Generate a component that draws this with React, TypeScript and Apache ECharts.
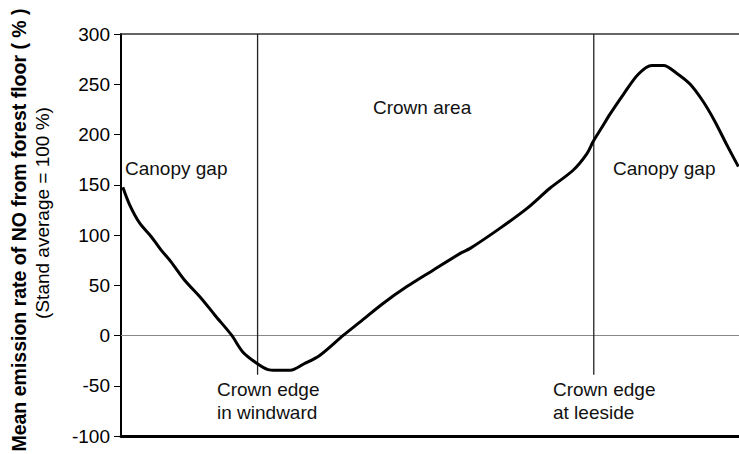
import React, { useEffect, useRef } from "react";
import * as echarts from "echarts";

// Position along the transect (0–100, relative units) and emission rate (% of stand average)
const transectPos = [0.3, 1.4, 3.0, 4.9, 6.5, 8.1, 10.3, 13.0, 15.2, 17.9, 19.7, 21.9, 23.8, 25.1, 27.4, 29.5, 32.2, 36.0, 38.7, 42.4, 46.2, 50.5, 54.9, 56.5, 61.3, 65.7, 69.4, 73.2, 75.4, 76.4, 78.0, 79.1, 81.3, 83.7, 85.9, 87.8, 89.9, 92.1, 94.2, 96.1, 98.0, 99.9];
const emission = [147.5, 130, 112, 98.3, 85, 73.3, 55, 36.9, 20.2, 0.3, -16.3, -27.3, -33.9, -34.6, -34.6, -28.6, -19.6, 0.3, 13.6, 31.9, 48.4, 65, 81.7, 86.7, 106.6, 126.5, 146.5, 164.7, 181, 193, 209, 220, 240, 260, 268.7, 268.7, 261, 250, 232.8, 213, 190, 168];

// Crown edges (vertical reference lines)
const crownEdgePos = [22.1, 76.5];
const crownEdgeTop = 300;
const crownEdgeBottom = -39;

const yMin = -100;
const yMax = 300;
const yInterval = 50;

const yTitle = "Mean emission rate of NO from forest floor ( % )";
const ySubTitle = "(Stand average = 100 %)";

const FONT = "Liberation Sans, Arial, sans-serif";

export default function App() {
  const ref = useRef<HTMLDivElement>(null);
  useEffect(() => {
    if (!ref.current) return;
    const chart = echarts.init(ref.current, null, { renderer: "svg" });
    const curve = transectPos.map((x, i) => [x, emission[i]]);
    const edgeSeries = crownEdgePos.map((x, i) => ({
      type: "line",
      name: "edge" + i,
      data: [[x, crownEdgeTop], [x, crownEdgeBottom]],
      symbol: "none",
      silent: true,
      lineStyle: { color: "#222", width: 1.3 },
      z: 3,
    }));
    const textStyle = { fill: "#111", fontSize: 19, fontFamily: FONT };
    chart.setOption({
      animation: false,
      backgroundColor: "#fff",
      grid: { left: 121, right: 0, top: 34, bottom: 18, outerBoundsMode: "none", containLabel: false },
      xAxis: [
        {
          type: "value",
          min: 0,
          max: 100,
          position: "bottom",
          axisLine: { onZero: false, lineStyle: { color: "#000", width: 3 } },
          axisTick: { show: false },
          axisLabel: { show: false },
          splitLine: { show: false },
        },
        {
          type: "value",
          min: 0,
          max: 100,
          position: "top",
          axisLine: { onZero: false, lineStyle: { color: "#333", width: 1.5 } },
          axisTick: { show: false },
          axisLabel: { show: false },
          splitLine: { show: false },
        },
      ],
      yAxis: {
        type: "value",
        min: yMin,
        max: yMax,
        interval: yInterval,
        axisLine: { show: true, onZero: false, lineStyle: { color: "#000", width: 2 } },
        axisTick: { show: true, inside: false, length: 7, lineStyle: { color: "#000", width: 1 } },
        axisLabel: { color: "#000", fontSize: 19, fontFamily: FONT, margin: 11 },
        splitLine: { show: false },
      },
      series: [
        {
          type: "line",
          data: curve,
          symbol: "none",
          smooth: 0.3,
          lineStyle: { color: "#000", width: 3 },
          z: 4,
          markLine: {
            silent: true,
            symbol: "none",
            label: { show: false },
            lineStyle: { color: "#888", width: 1.2, type: "solid" },
            data: [{ yAxis: 0 }],
            z: 2,
          },
        },
        ...edgeSeries,
      ],
      graphic: [
        {
          type: "text",
          x: 19,
          y: 230,
          rotation: Math.PI / 2,
          style: { text: yTitle, fill: "#000", fontSize: 19.5, fontWeight: "bold", fontFamily: FONT, align: "center", verticalAlign: "middle" },
        },
        {
          type: "text",
          x: 42,
          y: 213,
          rotation: Math.PI / 2,
          style: { text: ySubTitle, fill: "#000", fontSize: 19, fontFamily: FONT, align: "center", verticalAlign: "middle" },
        },
        { type: "text", x: 125, y: 168, style: { ...textStyle, text: "Canopy gap", verticalAlign: "middle" } },
        { type: "text", x: 373, y: 107, style: { ...textStyle, text: "Crown area", verticalAlign: "middle" } },
        { type: "text", x: 613, y: 168, style: { ...textStyle, text: "Canopy gap", verticalAlign: "middle" } },
        { type: "text", x: 217, y: 389, style: { ...textStyle, text: "Crown edge", verticalAlign: "middle" } },
        { type: "text", x: 217, y: 412, style: { ...textStyle, text: "in windward", verticalAlign: "middle" } },
        { type: "text", x: 553, y: 389, style: { ...textStyle, text: "Crown edge", verticalAlign: "middle" } },
        { type: "text", x: 553, y: 412, style: { ...textStyle, text: "at leeside", verticalAlign: "middle" } },
      ],
    });
    return () => chart.dispose();
  }, []);
  return <div ref={ref} style={{ width: 739, height: 454, position: "absolute", left: 0, top: 0 }} />;
}
